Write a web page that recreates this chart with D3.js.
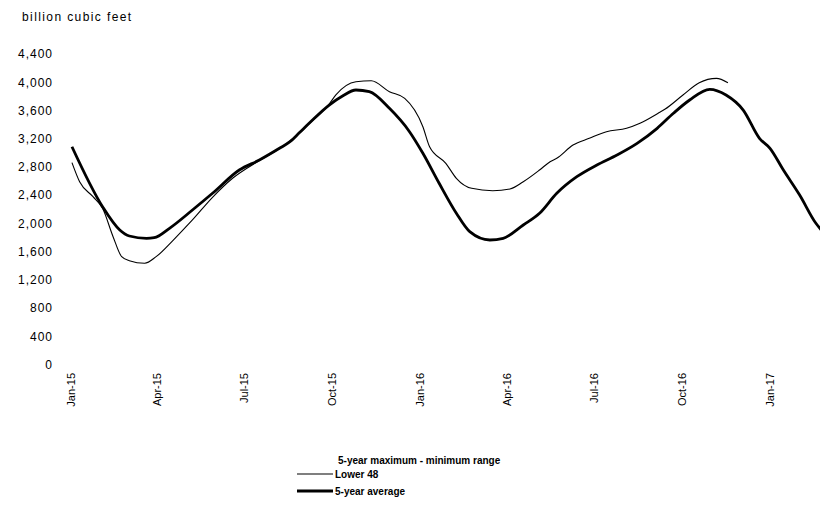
<!DOCTYPE html>
<html>
<head>
<meta charset="utf-8">
<script src="https://cdn.jsdelivr.net/npm/d3@7"></script>
<style>
  html, body { margin: 0; padding: 0; background: #fff; }
  svg { display: block; }
  text { font-family: "Liberation Sans", Arial, sans-serif; fill: #000; }
</style>
</head>
<body>
<svg id="chart" width="820" height="511"></svg>
<script>
// ---------- data ----------
const unitLabel = "billion cubic feet";
const yTicks = [0, 400, 800, 1200, 1600, 2000, 2400, 2800, 3200, 3600, 4000, 4400];
const xTickDates = ["2015-01-01","2015-04-01","2015-07-01","2015-10-01","2016-01-01","2016-04-01","2016-07-01","2016-10-01","2017-01-01"];
const xTickLabels = ["Jan-15","Apr-15","Jul-15","Oct-15","Jan-16","Apr-16","Jul-16","Oct-16","Jan-17"];

const avgDates = ["2015-01-02","2015-02-03","2015-02-21","2015-03-03","2015-03-21","2015-03-29","2015-04-14","2015-05-08","2015-05-29","2015-06-26","2015-07-17","2015-08-07","2015-08-18","2015-08-28","2015-09-07","2015-09-28","2015-10-12","2015-10-26","2015-11-09","2015-11-30","2015-12-21","2016-01-04","2016-01-21","2016-02-08","2016-02-22","2016-03-14","2016-03-28","2016-04-18","2016-05-05","2016-05-23","2016-06-13","2016-07-04","2016-07-25","2016-08-15","2016-09-05","2016-09-22","2016-10-09","2016-10-30","2016-11-16","2016-12-04","2016-12-21","2017-01-01","2017-01-15","2017-02-01","2017-02-18","2017-02-24"];
const avgValues = [3086,2236,1906,1821,1788,1797,1930,2189,2426,2756,2898,3064,3157,3287,3418,3677,3805,3890,3866,3630,3299,2993,2568,2143,1882,1764,1788,1977,2143,2426,2661,2827,2969,3134,3347,3560,3748,3900,3819,3606,3205,3064,2756,2402,2001,1900];

const l48Dates = ["2015-01-02","2015-01-10","2015-01-24","2015-02-03","2015-02-14","2015-02-23","2015-03-03","2015-03-19","2015-03-31","2015-04-18","2015-05-08","2015-05-29","2015-06-19","2015-07-17","2015-08-07","2015-08-28","2015-09-07","2015-09-28","2015-10-05","2015-10-26","2015-11-11","2015-11-30","2015-12-16","2016-01-04","2016-01-11","2016-01-28","2016-02-08","2016-02-24","2016-03-17","2016-04-04","2016-04-18","2016-05-05","2016-05-16","2016-05-23","2016-06-09","2016-06-26","2016-07-14","2016-08-04","2016-08-18","2016-09-06","2016-09-13","2016-10-02","2016-10-19","2016-11-06","2016-11-18"];
const l48Values = [2860,2590,2378,2213,1811,1528,1471,1434,1528,1764,2048,2369,2639,2890,3060,3280,3410,3690,3820,4007,4021,3866,3772,3370,3086,2851,2639,2497,2463,2487,2590,2756,2874,2922,3110,3205,3299,3347,3418,3560,3616,3819,3993,4055,3993];

const legendTitle = "5-year maximum - minimum range";
const seriesNames = ["Lower 48", "5-year average"];

// ---------- chart ----------
const parse = d3.utcParse("%Y-%m-%d");
const svg = d3.select("#chart");

const x = d3.scaleUtc()
  .domain([parse("2015-01-01"), parse("2017-01-01")])
  .range([71, 770]);
const y = d3.scaleLinear().domain([0, 4400]).range([364.5, 54]);

const clip = svg.append("defs").append("clipPath").attr("id", "plot")
  .append("rect").attr("x", 60).attr("y", 30).attr("width", 760).attr("height", 360);

// unit label
svg.append("text").attr("x", 22).attr("y", 21)
  .attr("font-size", 12).attr("letter-spacing", 1.4)
  .text(unitLabel);

// y axis labels
const yAxis = d3.axisLeft(y).tickValues(yTicks).tickSize(0).tickPadding(0)
  .tickFormat(d3.format(","));
const yg = svg.append("g").attr("transform", "translate(53,0)").call(yAxis);
yg.select(".domain").remove();
yg.selectAll("text").attr("font-size", 12).attr("letter-spacing", 1)
  .style("font-family", "'Liberation Sans', Arial, sans-serif").attr("fill", "#000");

// x axis labels
const xAxis = d3.axisBottom(x).tickValues(xTickDates.map(parse)).tickSize(0)
  .tickFormat((d, i) => xTickLabels[i]);
const xg = svg.append("g").attr("transform", "translate(0,373)").call(xAxis);
xg.select(".domain").remove();
xg.selectAll("text")
  .attr("font-size", 11)
  .style("font-family", "'Liberation Sans', Arial, sans-serif").attr("fill", "#000")
  .attr("text-anchor", "end")
  .attr("y", 0).attr("x", 0).attr("dy", "0.35em")
  .attr("transform", "rotate(-90)");

// lines
const line = d3.line().x(d => x(d.date)).y(d => y(d.value)).curve(d3.curveMonotoneX);
const avgData = avgDates.map((d, i) => ({date: parse(d), value: avgValues[i]}));
const l48Data = l48Dates.map((d, i) => ({date: parse(d), value: l48Values[i]}));

const plot = svg.append("g").attr("clip-path", "url(#plot)");
plot.append("path").datum(l48Data).attr("d", line)
  .attr("fill", "none").attr("stroke", "#000").attr("stroke-width", 1.1);
plot.append("path").datum(avgData).attr("d", line)
  .attr("fill", "none").attr("stroke", "#000").attr("stroke-width", 2.8);

// legend
const lg = svg.append("g");
lg.append("text").attr("x", 338).attr("y", 464).attr("font-size", 10)
  .attr("letter-spacing", 0).attr("font-weight", "bold").text(legendTitle);
const widths = [1.1, 2.8];
seriesNames.forEach((name, i) => {
  const yy = 474 + i * 17;
  lg.append("line").attr("x1", 297).attr("x2", 333).attr("y1", yy).attr("y2", yy)
    .attr("stroke", "#000").attr("stroke-width", widths[i]);
  lg.append("text").attr("x", 335).attr("y", yy + 3.5).attr("font-size", 10)
    .attr("font-weight", "bold").text(name);
});
</script>
</body>
</html>
